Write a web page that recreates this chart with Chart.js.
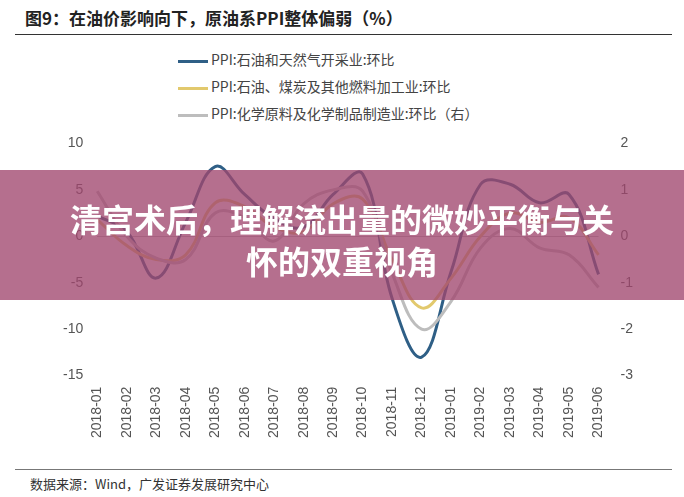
<!DOCTYPE html>
<html><head><meta charset="utf-8">
<script src="https://cdn.jsdelivr.net/npm/chart.js@4/dist/chart.umd.min.js"></script>
<style>
body{margin:0;width:684px;height:497px;background:#fff;position:relative;overflow:hidden;font-family:"Noto Sans CJK SC",sans-serif;}
#title{position:absolute;left:25px;top:5px;font-size:17px;font-weight:bold;color:#222;}
#hr1{position:absolute;left:15px;right:12px;top:34px;border-top:1.5px solid #333;}
#legend{position:absolute;left:178px;top:46px;font-size:14px;color:#444;line-height:27px;}
#legend span.l{display:inline-block;width:30px;height:3px;vertical-align:middle;margin-right:3px;}
#wrap{position:absolute;left:20px;top:121px;width:645px;height:320px;}
#hr2{position:absolute;left:15px;right:12px;top:469px;border-top:1px solid #777;}
#src{position:absolute;left:30px;top:474px;font-size:13px;color:#333;}
#banner{position:absolute;left:0;top:170px;width:684px;height:130px;background:rgba(160,70,110,0.78);color:#fff;font-weight:bold;font-size:32px;text-align:center;line-height:42px;display:flex;align-items:center;justify-content:center;padding-top:8px;box-sizing:border-box;}
#banner div{width:684px;}
</style></head><body>
<div id="title">图9：在油价影响向下，原油系PPI整体偏弱（%）</div>
<div id="hr1"></div>
<div id="legend">
<div><span class="l" style="background:#2f5f86"></span>PPI:石油和天然气开采业:环比</div>
<div><span class="l" style="background:#e2c96d"></span>PPI:石油、煤炭及其他燃料加工业:环比</div>
<div><span class="l" style="background:#bdbdbd"></span>PPI:化学原料及化学制品制造业:环比（右）</div>
</div>
<div id="wrap"><canvas id="c"></canvas></div>
<div id="hr2"></div>
<div id="src">数据来源：Wind，广发证券发展研究中心</div>
<div id="banner"><div>清宫术后，理解流出量的微妙平衡与关<br>怀的双重视角</div></div>
<script>
const categories=["2018-01","2018-02","2018-03","2018-04","2018-05","2018-06","2018-07","2018-08","2018-09","2018-10","2018-11","2018-12","2019-01","2019-02","2019-03","2019-04","2019-05","2019-06"];
const oilGas=[2.2,0.5,-4.5,1.5,7.5,4.5,1.9,1.0,4.5,6.7,-6.7,-13.0,-3.8,5.6,5.6,3.6,4.5,-4.1];
const fuelProc=[1.8,-1.0,-2.5,-2.0,3.6,3.2,1.0,0.5,3.5,4.0,-2.5,-7.7,-4.5,0.0,2.5,1.5,2.0,-2.0];
const chem=[0.97,0.0,-0.47,-0.5,0.5,0.4,-0.1,0.7,1.0,0.97,-0.8,-2.0,-1.4,-0.25,0.17,-0.25,-0.4,-1.1];
const leftTicks=[10,5,0,-5,-10,-15];
const rightTicks=[2,1,0,-1,-2,-3];
const tickFont={family:"Liberation Sans",size:14};
new Chart(document.getElementById('c'),{
type:'line',
data:{labels:categories,datasets:[
{data:chem,borderColor:'#bdbdbd',yAxisID:'y1',borderWidth:3,pointRadius:0,tension:0.4},
{data:fuelProc,borderColor:'#e2c96d',yAxisID:'y',borderWidth:3,pointRadius:0,tension:0.4},
{data:oilGas,borderColor:'#2f5f86',yAxisID:'y',borderWidth:3,pointRadius:0,tension:0.4}
]},
options:{responsive:true,maintainAspectRatio:false,animation:false,
layout:{padding:{left:29,right:18,top:0,bottom:0}},
plugins:{legend:{display:false},tooltip:{enabled:false}},
scales:{
x:{grid:{display:false},border:{display:false},ticks:{color:'#555',font:tickFont,maxRotation:90,minRotation:90}},
y:{min:-15,max:10,afterBuildTicks:a=>{a.ticks=leftTicks.map(v=>({value:v}));},
 grid:{drawTicks:false,color:c=>c.tick&&c.tick.value===0?'#bbb':'transparent'},border:{display:false},
 ticks:{color:'#555',font:tickFont,padding:14}},
y1:{position:'right',min:-3,max:2,afterBuildTicks:a=>{a.ticks=rightTicks.map(v=>({value:v}));},
 grid:{display:false},border:{display:false},ticks:{color:'#555',font:tickFont,padding:14}}
}}
});
</script>
</body></html>
